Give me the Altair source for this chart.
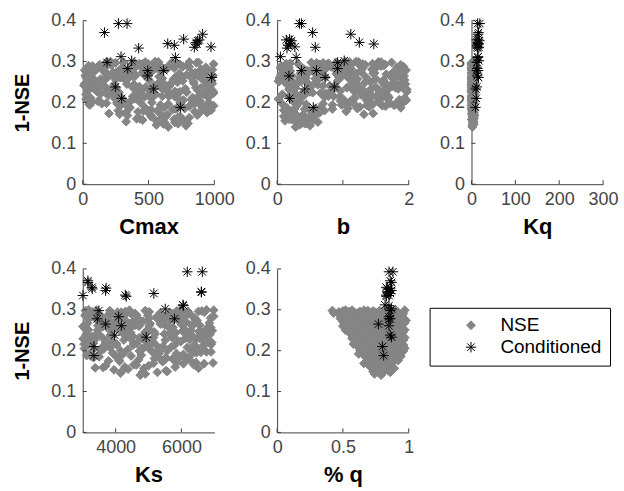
import altair as alt
import pandas as pd

# ---------------- data ----------------
series_names = ["NSE", "Conditioned"]

# grey cloud: 1-NSE of each sampled parameter set
nse = [
    0.290, 0.210, 0.260, 0.180, 0.240, 0.280, 0.160, 0.220, 0.270, 0.200,
    0.235, 0.295, 0.172, 0.253, 0.214, 0.268, 0.198, 0.284, 0.226, 0.153,
    0.262, 0.187, 0.241, 0.299, 0.205, 0.276, 0.165, 0.249, 0.219, 0.288,
    0.218, 0.272, 0.145, 0.231, 0.293, 0.194, 0.258, 0.181, 0.282, 0.244,
    0.297, 0.226, 0.159, 0.265, 0.208, 0.251, 0.286, 0.191, 0.238, 0.274,
    0.178, 0.244, 0.289, 0.215, 0.265, 0.149, 0.229, 0.296, 0.202, 0.258,
    0.281, 0.196, 0.253, 0.222, 0.168, 0.291, 0.236, 0.276, 0.185, 0.248,
    0.212, 0.267, 0.300, 0.175, 0.245, 0.284, 0.155, 0.232, 0.261, 0.199,
    0.241, 0.290, 0.208, 0.270, 0.183, 0.256, 0.223, 0.294, 0.163, 0.279,
    0.264, 0.189, 0.298, 0.233, 0.147, 0.274, 0.217, 0.250, 0.193, 0.287,
    0.227, 0.283, 0.171, 0.259, 0.204, 0.295, 0.239, 0.157, 0.269, 0.213,
    0.255, 0.197, 0.285, 0.242, 0.179, 0.271, 0.220, 0.292, 0.186, 0.247,
    0.278, 0.210, 0.262, 0.166, 0.236, 0.299, 0.200, 0.273, 0.228, 0.140,
    0.244, 0.289, 0.216, 0.257, 0.192, 0.280, 0.232, 0.169, 0.266, 0.300,
    0.203, 0.252, 0.296, 0.225, 0.160, 0.277, 0.240, 0.185, 0.263, 0.211,
    0.268, 0.194, 0.247, 0.283, 0.176, 0.234, 0.291, 0.218, 0.259, 0.152,
    0.230, 0.274, 0.206, 0.297, 0.250, 0.183, 0.261, 0.221, 0.287, 0.197,
    0.258, 0.214, 0.281, 0.237, 0.170, 0.293, 0.246, 0.201, 0.272, 0.225,
    0.290, 0.239, 0.188, 0.266, 0.209, 0.279, 0.143, 0.253, 0.229, 0.298,
    0.222, 0.262, 0.173, 0.286, 0.249, 0.199, 0.276, 0.234, 0.157, 0.270,
    0.285, 0.232, 0.196, 0.257, 0.221, 0.299, 0.178, 0.246, 0.268, 0.206,
    0.242, 0.192, 0.271, 0.215, 0.294, 0.163, 0.250, 0.226, 0.281, 0.203,
    0.263, 0.218, 0.291, 0.184, 0.237, 0.275, 0.151, 0.209, 0.256, 0.230,
    0.298, 0.247, 0.205, 0.266, 0.174, 0.236, 0.288, 0.219, 0.195, 0.260,
    0.224, 0.279, 0.187, 0.252, 0.296, 0.212, 0.270, 0.158, 0.241, 0.283,
    0.257, 0.199, 0.288, 0.232, 0.168, 0.273, 0.215, 0.297, 0.245, 0.184,
    0.274, 0.228, 0.193, 0.292, 0.249, 0.207, 0.262, 0.180, 0.238, 0.286,
    0.211, 0.266, 0.148, 0.241, 0.299, 0.222, 0.177, 0.255, 0.284, 0.196,
    0.235, 0.278, 0.202, 0.261, 0.189, 0.294, 0.226, 0.248, 0.165, 0.271,
    0.290, 0.243, 0.214, 0.171, 0.268, 0.230, 0.280, 0.198, 0.253, 0.220,
]
cmax = [
    45, 520, 830, 270, 660, 150, 410, 920, 350, 740,
    610, 230, 880, 95, 470, 790, 180, 560, 990, 330,
    705, 360, 15, 475, 845, 265, 630, 120, 955, 545,
    425, 885, 560, 200, 740, 55, 315, 975, 640, 390,
    865, 110, 695, 400, 25, 585, 300, 810, 480, 165,
    570, 935, 75, 655, 245, 800, 445, 715, 360, 905,
    290, 650, 980, 140, 520, 375, 860, 40, 775, 610,
    835, 470, 210, 945, 335, 695, 560, 90, 755, 260,
    125, 590, 420, 920, 685, 250, 995, 500, 810, 15,
    380, 730, 880, 55, 615, 455, 195, 965, 330, 545,
    700, 165, 280, 605, 890, 430, 80, 765, 320, 955,
    505, 850, 395, 10, 460, 735, 555, 215, 910, 670,
    600, 300, 70, 740, 965, 180, 525, 855, 410, 650,
    240, 795, 455, 135, 995, 345, 630, 870, 20, 550,
    890, 50, 670, 275, 435, 940, 160, 715, 580, 385,
    465, 590, 845, 110, 330, 780, 505, 30, 930, 620,
    955, 230, 740, 395, 60, 520, 285, 660, 810, 145,
    345, 700, 900, 175, 600, 455, 985, 70, 250, 790,
    120, 430, 620, 875, 245, 530, 785, 935, 35, 680,
    510, 825, 200, 365, 720, 960, 90, 600, 455, 285,
    85, 415, 945, 690, 230, 575, 850, 15, 325, 765,
    540, 900, 185, 380, 995, 720, 60, 650, 460, 115,
    820, 265, 445, 580, 35, 940, 700, 395, 155, 875,
    310, 610, 125, 990, 505, 255, 760, 545, 50, 900,
    725, 35, 475, 840, 200, 955, 395, 585, 105, 625,
    175, 440, 760, 880, 340, 65, 605, 250, 965, 700,
    520, 990, 290, 130, 680, 825, 25, 480, 375, 935,
    60, 350, 725, 560, 810, 180, 420, 945, 640, 265,
    895, 590, 40, 290, 960, 455, 740, 100, 520, 830,
    410, 135, 875, 645, 215, 505, 985, 335, 760, 25,
]
b = [
    1.62, 0.35, 1.08, 0.72, 1.85, 0.12, 0.48, 1.30, 0.90, 1.55,
    0.22, 1.45, 0.60, 1.92, 0.95, 0.40, 1.70, 0.05, 1.18, 0.30,
    1.35, 0.15, 0.80, 1.10, 1.96, 0.55, 0.25, 1.60, 0.70, 1.88,
    0.42, 1.75, 0.33, 1.25, 0.65, 0.98, 1.50, 0.10, 1.02, 1.82,
    0.60, 1.40, 0.18, 1.93, 1.15, 0.03, 0.85, 1.65, 0.50, 1.28,
    1.05, 0.28, 1.58, 0.78, 1.72, 0.45, 1.22, 0.20, 1.90, 0.62,
    1.48, 0.08, 0.92, 1.62, 0.38, 1.12, 1.80, 0.68, 0.58, 1.33,
    1.70, 0.62, 1.20, 0.26, 1.95, 0.75, 0.12, 1.42, 0.34, 1.05,
    0.88, 1.52, 0.02, 1.14, 0.48, 1.78, 0.66, 0.32, 0.44, 1.96,
    0.16, 1.26, 0.52, 1.84, 0.36, 1.00, 1.68, 0.24, 1.36, 0.82,
    1.56, 0.40, 0.58, 1.90, 0.96, 0.14, 1.24, 0.26, 1.66, 0.72,
    1.94, 0.70, 1.30, 0.54, 0.22, 1.46, 0.08, 1.88, 1.08, 0.30,
    0.46, 1.18, 1.74, 0.10, 0.88, 1.54, 1.92, 0.36, 1.32, 0.28,
    1.12, 0.06, 1.44, 0.62, 1.60, 0.92, 0.18, 0.52, 1.84, 1.04,
    0.34, 1.62, 0.78, 1.38, 0.54, 0.20, 1.76, 1.22, 0.98, 1.52,
    1.86, 0.84, 0.30, 1.06, 0.16, 1.70, 0.56, 1.28, 0.04, 0.62,
    1.16, 0.48, 1.96, 0.70, 1.42, 0.26, 0.94, 1.58, 0.12, 1.80,
    0.58, 1.34, 0.96, 1.90, 0.40, 1.64, 0.14, 1.10, 1.48, 0.80,
    1.26, 1.72, 0.66, 0.22, 1.00, 1.94, 0.50, 0.38, 1.56, 0.90,
    0.74, 0.10, 1.46, 1.82, 1.20, 0.32, 0.60, 1.66, 0.56, 1.02,
    0.94, 1.97, 0.44, 1.14, 0.28, 1.58, 0.66, 1.76, 0.06, 1.38,
    1.64, 0.30, 1.10, 0.86, 1.30, 0.34, 1.90, 0.50, 1.44, 0.24,
    0.12, 1.52, 0.72, 0.42, 1.82, 1.00, 0.40, 1.68, 0.62, 1.26,
    1.74, 0.20, 1.36, 0.06, 0.64, 1.06, 1.92, 0.78, 1.18, 0.44,
    0.54, 1.28, 1.88, 0.02, 0.90, 1.60, 0.36, 0.22, 1.70, 1.12,
    1.22, 1.56, 0.08, 1.96, 0.26, 0.68, 1.42, 1.02, 0.30, 0.84,
    0.48, 0.96, 1.78, 1.34, 0.14, 1.86, 0.74, 0.58, 1.50, 0.18,
    1.94, 1.06, 0.42, 0.70, 1.24, 0.38, 0.60, 1.62, 0.88, 1.46,
    0.28, 1.80, 1.12, 0.04, 1.40, 0.92, 1.97, 0.46, 0.32, 1.20,
    1.54, 0.62, 0.18, 1.32, 1.84, 1.16, 0.52, 1.72, 0.10, 0.80,
]
kq = [
    2.1, 4.5, 0.8, 3.3, 5.6, 1.5, 3.9, 2.7, 4.8, 1.2,
    5.1, 0.6, 2.4, 4.0, 1.8, 5.9, 3.0, 2.2, 0.9, 4.4,
    3.6, 1.0, 4.9, 2.6, 0.5, 3.4, 5.3, 1.7, 4.2, 2.9,
    1.4, 5.0, 3.7, 0.7, 2.3, 4.6, 1.9, 5.7, 3.1, 0.4,
    4.3, 2.0, 0.6, 5.4, 3.5, 1.3, 4.7, 2.5, 6.0, 1.6,
    2.8, 0.9, 5.2, 1.1, 3.8, 4.1, 0.3, 2.0, 5.5, 3.2,
    3.9, 5.8, 1.5, 2.6, 4.0, 0.8, 5.0, 2.9, 1.7, 4.6,
    1.0, 4.4, 2.7, 5.6, 3.3, 0.5, 2.2, 4.9, 1.4, 3.6,
    5.3, 2.4, 0.9, 3.8, 4.7, 1.2, 2.9, 5.9, 3.0, 1.8,
    0.7, 3.1, 4.5, 2.1, 5.2, 1.6, 3.7, 0.4, 4.8, 2.5,
    4.0, 2.7, 5.5, 1.0, 3.4, 4.8, 1.9, 2.6, 5.8, 0.8,
    2.2, 5.0, 1.3, 4.2, 3.2, 0.6, 5.6, 2.8, 4.3, 1.5,
    3.5, 1.1, 4.6, 2.4, 0.5, 5.1, 3.0, 1.7, 5.4, 2.0,
    4.9, 3.3, 0.6, 5.0, 2.2, 3.9, 1.3, 4.4, 2.7, 5.7,
    1.6, 4.1, 3.0, 0.7, 5.3, 2.3, 4.5, 1.1, 3.6, 5.9,
    2.5, 0.9, 5.0, 3.4, 1.9, 4.3, 0.5, 2.8, 5.5, 3.9,
    4.7, 1.4, 3.1, 5.6, 2.0, 0.8, 4.0, 3.3, 1.2, 5.2,
    0.3, 3.7, 2.3, 4.8, 5.9, 1.5, 3.0, 4.4, 2.6, 1.0,
    5.1, 2.9, 4.2, 0.6, 3.8, 2.1, 1.8, 5.4, 4.6, 2.4,
    3.3, 5.7, 1.1, 4.0, 0.8, 2.7, 5.0, 1.9, 3.5, 4.5,
    1.2, 4.8, 3.2, 0.4, 5.5, 2.6, 4.1, 1.7, 3.6, 5.0,
    2.9, 0.5, 5.4, 3.9, 1.4, 4.5, 2.2, 5.8, 0.7, 3.4,
    4.4, 1.8, 3.1, 5.6, 0.9, 2.5, 3.7, 1.3, 5.1, 4.0,
    3.0, 5.2, 0.6, 2.3, 4.6, 1.0, 5.9, 3.5, 2.0, 4.2,
    5.6, 2.8, 1.5, 4.9, 0.3, 3.8, 2.4, 4.3, 1.1, 5.3,
    2.2, 0.8, 4.5, 3.2, 5.7, 1.6, 4.0, 0.5, 2.8, 3.6,
    4.8, 3.4, 1.0, 5.5, 2.5, 0.9, 4.2, 2.0, 5.9, 3.1,
    1.5, 4.6, 2.9, 0.6, 3.7, 5.2, 2.3, 4.1, 1.8, 5.6,
    3.3, 0.7, 5.0, 2.1, 4.4, 1.2, 3.8, 5.8, 2.7, 0.4,
    4.1, 2.6, 5.3, 1.4, 3.5, 0.6, 4.9, 2.4, 1.9, 5.5,
]
ks = [
    3850, 6420, 4710, 5530, 3120, 6890, 4280, 5060, 6150, 3560,
    4520, 3300, 5870, 4040, 6700, 3730, 5310, 6330, 4900, 3950,
    6560, 3480, 5200, 4420, 3050, 5760, 4630, 6940, 3690, 5410,
    3270, 4830, 4150, 6250, 5640, 3910, 6810, 5180, 3390, 4460,
    5950, 4250, 3620, 5360, 6630, 3170, 4980, 6060, 3840, 6470,
    4700, 5830, 3400, 6900, 4330, 5570, 3010, 6200, 4800, 3600,
    4070, 6380, 5000, 3220, 6690, 4590, 3520, 5660, 4120, 6030,
    5250, 3150, 6760, 3780, 4890, 6120, 4380, 5720, 3460, 6570,
    5480, 3890, 6180, 4510, 3330, 6840, 5120, 4170, 3700, 5920,
    6000, 4780, 3080, 6520, 5270, 3560, 4020, 6290, 5850, 4640,
    3160, 5590, 6440, 4270, 3640, 5020, 6730, 4860, 3980, 5790,
    4380, 6900, 3380, 5660, 6160, 3830, 4950, 5350, 3260, 6600,
    5000, 3700, 6350, 4560, 3430, 6980, 4150, 5470, 6240, 4750,
    6690, 4490, 3040, 5740, 4230, 6410, 3600, 5150, 4410, 3180,
    5040, 6080, 4300, 3350, 5810, 4700, 6870, 3500, 5500, 4930,
    3750, 5280, 6530, 4080, 6270, 3890, 5720, 4640, 3010, 4220,
    6120, 3440, 4790, 6620, 3900, 5530, 4510, 3290, 5980, 6760,
    5600, 4030, 3230, 4860, 6960, 4340, 5170, 6460, 3640, 5880,
    4600, 6300, 3120, 5050, 5690, 3480, 4900, 6800, 4460, 3820,
    6700, 4120, 5430, 3070, 6140, 4720, 5300, 3340, 6520, 5960,
    3300, 5150, 6590, 4440, 3900, 6010, 5380, 4180, 6850, 3560,
    5760, 3200, 4660, 6390, 4060, 5000, 3450, 6780, 5230, 4370,
    6300, 4550, 3110, 5950, 4290, 3650, 5530, 6620, 3940, 4800,
    4900, 6700, 3350, 5420, 4120, 6170, 3780, 5090, 6460, 3020,
    3710, 5870, 4470, 3090, 6520, 4980, 6100, 3380, 5640, 4240,
    6890, 5560, 3520, 4720, 6060, 4310, 3160, 5860, 4950, 6230,
    4000, 6440, 5320, 3240, 6810, 3830, 4590, 5730, 3100, 6140,
    5440, 3600, 4820, 6610, 3420, 5980, 4100, 3760, 6980, 5130,
    3270, 4660, 6250, 5020, 3970, 6700, 5510, 4350, 6380, 3680,
    6030, 3450, 4540, 5850, 3130, 6560, 4200, 5260, 3810, 6920,
]
pq = [
    0.61, 0.83, 0.92, 0.71, 0.66, 0.79, 0.85, 0.74, 0.55, 0.93,
    0.88, 0.47, 0.78, 0.57, 0.96, 0.70, 0.67, 0.86, 0.62, 0.75,
    0.84, 0.89, 0.73, 0.52, 0.70, 0.95, 0.72, 0.64, 0.79, 0.68,
    0.66, 0.58, 0.80, 0.91, 0.75, 0.87, 0.53, 0.69, 0.88, 0.77,
    0.85, 0.59, 0.88, 0.62, 0.81, 0.97, 0.49, 0.76, 0.69, 0.90,
    0.82, 0.60, 0.71, 0.88, 0.51, 0.73, 0.83, 0.63, 0.65, 0.94,
    0.57, 0.94, 0.80, 0.72, 0.76, 0.96, 0.64, 0.83, 0.67, 0.87,
    0.62, 0.74, 0.90, 0.89, 0.56, 0.66, 0.81, 0.97, 0.68, 0.78,
    0.93, 0.54, 0.75, 0.61, 0.81, 0.71, 0.86, 0.79, 0.70, 0.48,
    0.58, 0.72, 0.69, 0.75, 0.86, 0.98, 0.64, 0.85, 0.91, 0.60,
    0.68, 0.81, 0.70, 0.89, 0.84, 0.58, 0.79, 0.77, 0.52, 0.92,
    0.63, 0.86, 0.93, 0.84, 0.75, 0.67, 0.77, 0.43, 0.94, 0.61,
    0.50, 0.69, 0.95, 0.83, 0.59, 0.97, 0.63, 0.76, 0.89, 0.79,
    0.70, 0.47, 0.58, 0.82, 0.62, 0.72, 0.95, 0.66, 0.87, 0.82,
    0.90, 0.75, 0.55, 0.85, 0.71, 0.63, 0.56, 0.86, 0.72, 0.61,
    0.92, 0.68, 0.88, 0.53, 0.92, 0.78, 0.88, 0.81, 0.60, 0.84,
    0.67, 0.86, 0.97, 0.73, 0.52, 0.78, 0.77, 0.70, 0.95, 0.72,
    0.67, 0.87, 0.62, 0.87, 0.79, 0.65, 0.96, 0.80, 0.54, 0.74,
    0.84, 0.61, 0.77, 0.81, 0.73, 0.91, 0.74, 0.93, 0.80, 0.42,
    0.94, 0.66, 0.73, 0.77, 0.82, 0.96, 0.56, 0.71, 0.89, 0.80,
    0.74, 0.63, 0.69, 0.93, 0.82, 0.57, 0.86, 0.55, 0.97, 0.76,
    0.91, 0.84, 0.50, 0.71, 0.92, 0.77, 0.68, 0.96, 0.78, 0.86,
    0.61, 0.91, 0.68, 0.92, 0.81, 0.53, 0.77, 0.62, 0.89, 0.57,
    0.78, 0.74, 0.93, 0.66, 0.86, 0.92, 0.59, 0.84, 0.80, 0.50,
    0.69, 0.64, 0.73, 0.60, 0.88, 0.79, 0.85, 0.82, 0.67, 0.94,
    0.79, 0.74, 0.81, 0.70, 0.69, 0.88, 0.66, 0.50, 0.86, 0.90,
    0.75, 0.88, 0.65, 0.61, 0.95, 0.83, 0.54, 0.79, 0.60, 0.69,
    0.90, 0.56, 0.79, 0.84, 0.66, 0.60, 0.73, 0.71, 0.51, 0.82,
    0.77, 0.92, 0.70, 0.86, 0.88, 0.72, 0.73, 0.90, 0.80, 0.63,
    0.91, 0.58, 0.75, 0.82, 0.64, 0.83, 0.70, 0.92, 0.77, 0.68,
]

# black asterisks: conditioned parameter sets
c_nse = [0.371, 0.393, 0.393, 0.298, 0.312, 0.302, 0.283, 0.333, 0.238, 0.210,
         0.278, 0.265, 0.233, 0.278, 0.344, 0.340, 0.310, 0.355, 0.188, 0.335,
         0.347, 0.351, 0.353, 0.367, 0.336, 0.261, 0.343]
c_cmax = [165, 271, 337, 185, 291, 372, 342, 425, 248, 296,
          494, 494, 539, 615, 646, 696, 704, 767, 742, 848,
          861, 873, 886, 911, 975, 980, 868]
c_b = [0.54, 0.34, 0.37, 0.92, 0.05, 1.02, 0.92, 0.15, 0.87, 0.19,
       0.37, 0.18, 0.42, 0.60, 0.20, 0.17, 0.29, 0.19, 0.55, 0.58,
       1.25, 0.22, 0.14, 1.12, 0.27, 0.73, 1.47]
c_kq = [16, 14, 19, 12, 15, 17, 13, 14, 12, 11,
        15, 13, 10, 12, 16, 13, 14, 15, 9, 17,
        14, 18, 12, 15, 13, 16, 15]
c_ks = [3157, 6178, 6635, 3492, 6046, 5508, 4091, 4325, 3970, 3340,
        5792, 3695, 4929, 3441, 6604, 5162, 6060, 3279, 3340, 3005,
        3695, 3290, 3710, 3160, 4294, 4173, 6610]
c_pq = [0.86, 0.85, 0.88, 0.86, 0.82, 0.87, 0.85, 0.83, 0.86, 0.80,
        0.85, 0.77, 0.87, 0.86, 0.84, 0.86, 0.85, 0.83, 0.81, 0.85,
        0.87, 0.84, 0.86, 0.87, 0.83, 0.85, 0.85]

y_ticks = [0, 0.1, 0.2, 0.3, 0.4]

# ---------------- table ----------------
rows = []
for i in range(len(nse)):
    rows.append({"nse": nse[i], "cmax": cmax[i], "b": b[i], "kq": kq[i],
                 "ks": ks[i], "pq": pq[i], "series": "NSE"})
for i in range(len(c_nse)):
    rows.append({"nse": c_nse[i], "cmax": c_cmax[i], "b": c_b[i], "kq": c_kq[i],
                 "ks": c_ks[i], "pq": c_pq[i], "series": "Conditioned"})
df = pd.DataFrame(rows)

# ---------------- style ----------------
FONT = "Liberation Sans"
AXC = "#404040"
GREY = "#858585"
AST = "M-1,0L1,0M0,-1L0,1M-0.72,-0.72L0.72,0.72M-0.72,0.72L0.72,-0.72"
W = 132


def panel(field, title, domain, xticks, fmt, H, ytitle):
    xs = alt.Scale(domain=domain, nice=False, zero=False)
    ys = alt.Scale(domain=[0, 0.4], nice=False, zero=False)
    xax = alt.Axis(values=xticks, format=fmt, title=title, ticks=False,
                   grid=False, labelPadding=6, titlePadding=8, labelFlush=False)
    yax = alt.Axis(values=y_ticks, format=".1~f",
                   title=("1-NSE" if ytitle else ""), ticks=False,
                   grid=False, labelPadding=7, titlePadding=18, titleFontSize=20)
    pts = alt.Chart(df).mark_point(opacity=1, strokeWidth=1, clip=False).encode(
        x=alt.X(f"{field}:Q", scale=xs, axis=xax),
        y=alt.Y("nse:Q", scale=ys, axis=yax),
        shape=alt.Shape("series:N",
                        scale=alt.Scale(domain=series_names, range=["diamond", AST]),
                        legend=alt.Legend(title=None)),
        fill=alt.Fill("series:N",
                      scale=alt.Scale(domain=series_names, range=[GREY, "#000000"]),
                      legend=alt.Legend(title=None)),
        stroke=alt.Stroke("series:N",
                          scale=alt.Scale(domain=series_names, range=[GREY, "#000000"]),
                          legend=alt.Legend(title=None)),
        size=alt.Size("series:N",
                      scale=alt.Scale(domain=series_names, range=[78, 110]),
                      legend=alt.Legend(title=None)),
    )
    xt = alt.Chart(pd.DataFrame({"v": xticks})).mark_rule(color=AXC, strokeWidth=1).encode(
        x=alt.X("v:Q", scale=xs, axis=xax), y=alt.value(H), y2=alt.value(H - 4))
    yt = alt.Chart(pd.DataFrame({"v": y_ticks})).mark_rule(color=AXC, strokeWidth=1).encode(
        y=alt.Y("v:Q", scale=ys, axis=yax), x=alt.value(0), x2=alt.value(4))
    return alt.layer(pts, xt, yt).properties(width=W, height=H)


p1 = panel("cmax", "Cmax", [0, 1000], [0, 500, 1000], "d", 164, True)
p2 = panel("b", "b", [0, 2], [0, 1, 2], "d", 164, False)
p3 = panel("kq", "Kq", [0, 300], [0, 100, 200, 300], "d", 164, False)
p4 = panel("ks", "Ks", [3000, 7000], [4000, 6000], "d", 164, True)
p5 = panel("pq", "% q", [0, 1], [0, 0.5, 1], ".1~f", 164, False)

chart = alt.concat(
    p1, p2, p3, p4, p5, columns=3,
    spacing={"row": 85, "column": 63}, bounds="flush",
    padding={"left": 12, "top": 11, "right": 5, "bottom": 5},
).configure_axis(
    labelFont=FONT, labelFontSize=18, labelColor="#444444",
    titleFont=FONT, titleFontSize=22, titleFontWeight="bold", titleColor="#000000",
    domainColor=AXC, domainWidth=1,
).configure_view(
    strokeWidth=0
).configure_legend(
    orient="none", legendX=348, legendY=288,
    strokeColor="#000000", fillColor="#ffffff", padding=8,
    labelFont=FONT, labelFontSize=19, labelColor="#000000",
    symbolOffset=24, labelOffset=20, rowPadding=2, symbolStrokeWidth=1,
)

chart.save("out.html", embed_options={"renderer": "svg", "actions": False})
